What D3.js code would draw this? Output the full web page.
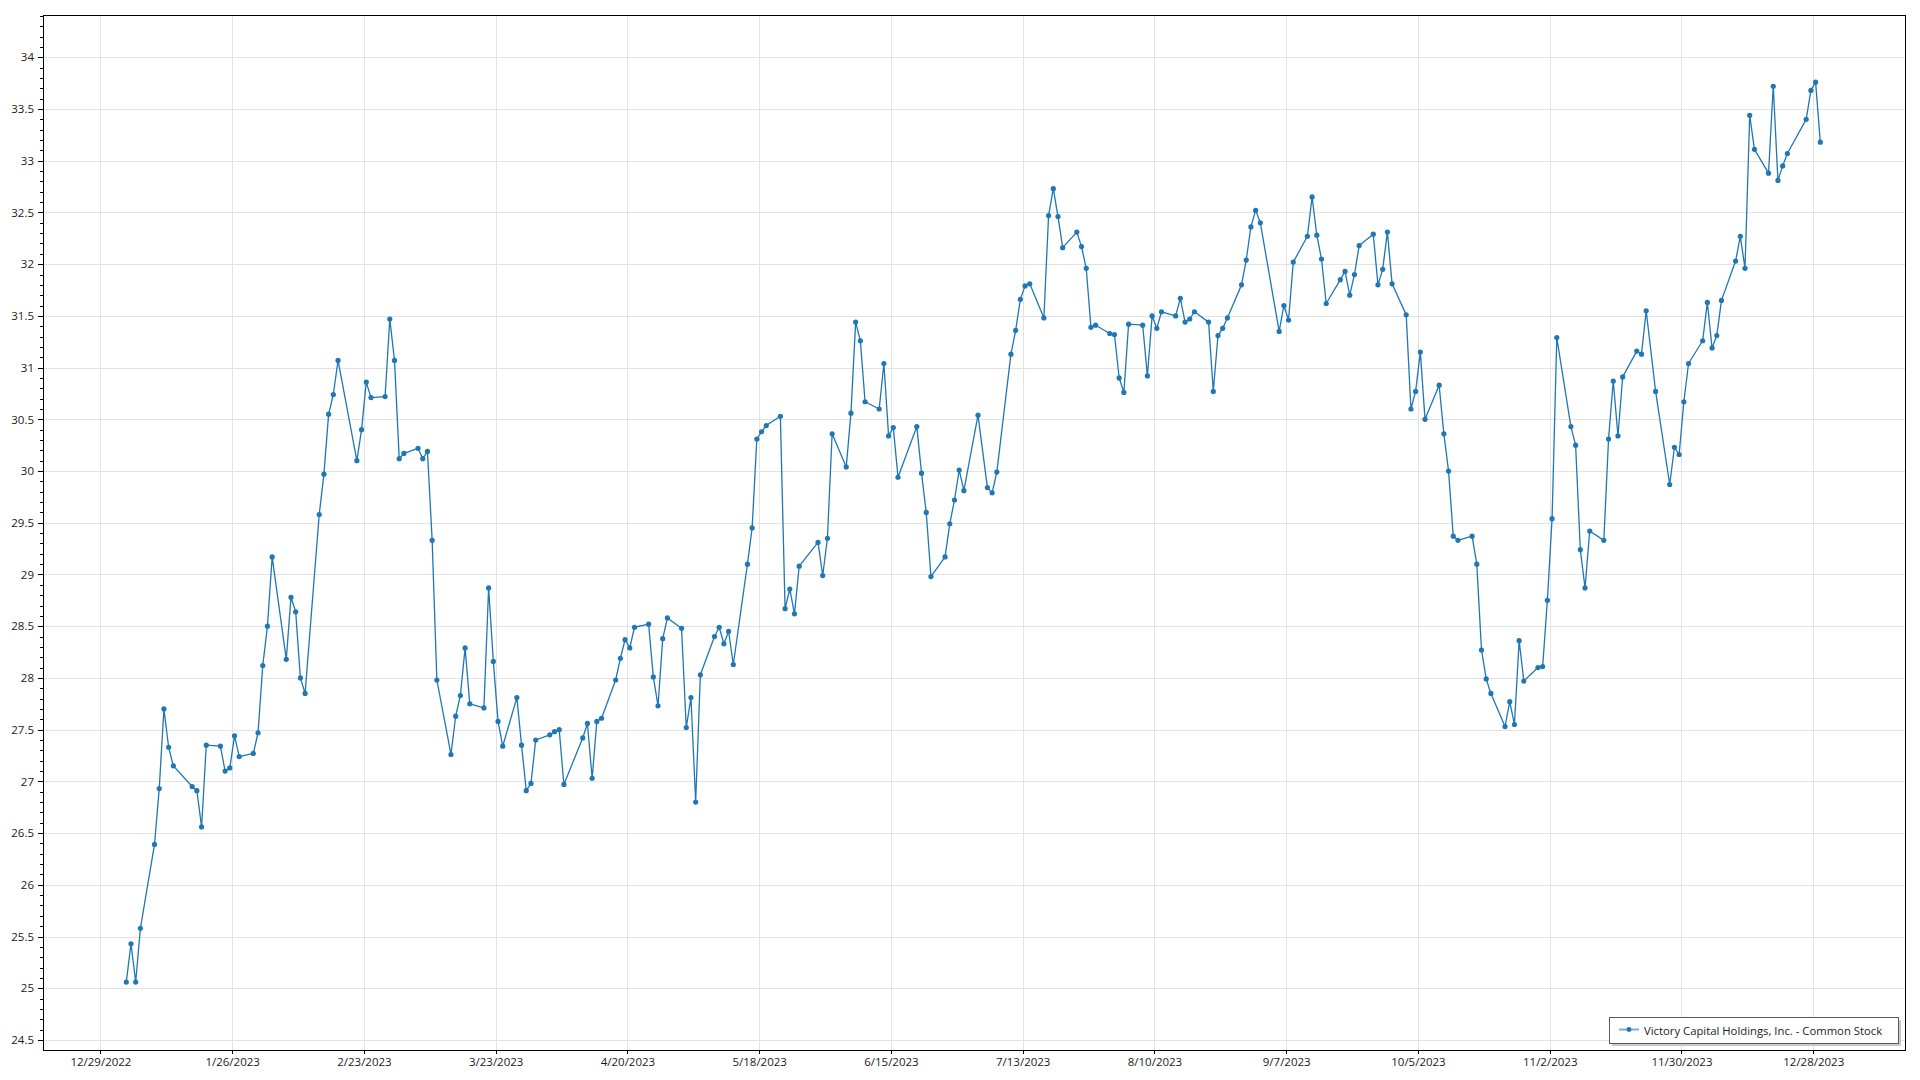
<!DOCTYPE html>
<html><head><meta charset="utf-8">
<script src="https://cdn.jsdelivr.net/npm/d3@7"></script>
<style>html,body{margin:0;padding:0;background:#fff;} svg{display:block}</style>
</head><body><svg id="chart" width="1920" height="1080"></svg>
<script>
const seriesName = "Victory Capital Holdings, Inc. - Common Stock";
const tradeDates = [
"1/3","1/4","1/5","1/6","1/9","1/10","1/11","1/12","1/13","1/17","1/18","1/19","1/20","1/23","1/24","1/25","1/26","1/27","1/30","1/31",
"2/1","2/2","2/3","2/6","2/7","2/8","2/9","2/10","2/13","2/14","2/15","2/16","2/17","2/21","2/22","2/23","2/24","2/27","2/28",
"3/1","3/2","3/3","3/6","3/7","3/8","3/9","3/10","3/13","3/14","3/15","3/16","3/17","3/20","3/21","3/22","3/23","3/24","3/27","3/28","3/29","3/30","3/31",
"4/3","4/4","4/5","4/6","4/10","4/11","4/12","4/13","4/14","4/17","4/18","4/19","4/20","4/21","4/24","4/25","4/26","4/27","4/28",
"5/1","5/2","5/3","5/4","5/5","5/8","5/9","5/10","5/11","5/12","5/15","5/16","5/17","5/18","5/19","5/22","5/23","5/24","5/25","5/26","5/30","5/31",
"6/1","6/2","6/5","6/6","6/7","6/8","6/9","6/12","6/13","6/14","6/15","6/16","6/20","6/21","6/22","6/23","6/26","6/27","6/28","6/29","6/30",
"7/3","7/5","7/6","7/7","7/10","7/11","7/12","7/13","7/14","7/17","7/18","7/19","7/20","7/21","7/24","7/25","7/26","7/27","7/28","7/31",
"8/1","8/2","8/3","8/4","8/7","8/8","8/9","8/10","8/11","8/14","8/15","8/16","8/17","8/18","8/21","8/22","8/23","8/24","8/25","8/28","8/29","8/30","8/31",
"9/1","9/5","9/6","9/7","9/8","9/11","9/12","9/13","9/14","9/15","9/18","9/19","9/20","9/21","9/22","9/25","9/26","9/27","9/28","9/29",
"10/2","10/3","10/4","10/5","10/6","10/9","10/10","10/11","10/12","10/13","10/16","10/17","10/18","10/19","10/20","10/23","10/24","10/25","10/26","10/27","10/30","10/31",
"11/1","11/2","11/3","11/6","11/7","11/8","11/9","11/10","11/13","11/14","11/15","11/16","11/17","11/20","11/21","11/22","11/24","11/27","11/28","11/29","11/30",
"12/1","12/4","12/5","12/6","12/7","12/8","12/11","12/12","12/13","12/14","12/15","12/18","12/19","12/20","12/21","12/22","12/26","12/27","12/28","12/29"
];
const closePrices = [
25.06,25.43,25.06,25.58,26.39,26.93,27.70,27.33,27.15,26.95,26.91,26.56,27.35,27.34,27.10,27.13,27.44,27.24,27.27,27.47,
28.12,28.50,29.17,28.18,28.78,28.64,28.00,27.85,29.58,29.97,30.55,30.74,31.07,30.10,30.40,30.86,30.71,30.72,31.47,
31.07,30.12,30.17,30.22,30.12,30.19,29.33,27.98,27.26,27.63,27.83,28.29,27.75,27.71,28.87,28.16,27.58,27.34,27.81,27.35,26.91,26.98,27.40,
27.45,27.48,27.50,26.97,27.42,27.56,27.03,27.58,27.61,27.98,28.19,28.37,28.29,28.49,28.52,28.01,27.73,28.38,28.58,
28.48,27.52,27.81,26.80,28.03,28.40,28.49,28.33,28.45,28.13,29.10,29.45,30.31,30.38,30.44,30.53,28.67,28.86,28.62,29.08,29.31,28.99,
29.35,30.36,30.04,30.56,31.44,31.26,30.67,30.60,31.04,30.34,30.42,29.94,30.43,29.98,29.60,28.98,29.17,29.49,29.72,30.01,29.81,
30.54,29.84,29.79,29.99,31.13,31.36,31.66,31.79,31.81,31.48,32.47,32.73,32.46,32.16,32.31,32.17,31.96,31.39,31.41,31.33,
31.32,30.90,30.76,31.42,31.41,30.92,31.50,31.38,31.54,31.50,31.67,31.44,31.47,31.54,31.44,30.77,31.31,31.38,31.48,31.80,32.04,32.36,32.52,
32.40,31.35,31.60,31.46,32.02,32.27,32.65,32.28,32.05,31.62,31.85,31.93,31.70,31.90,32.18,32.29,31.80,31.95,32.31,31.81,
31.51,30.60,30.77,31.15,30.50,30.83,30.36,30.00,29.37,29.33,29.37,29.10,28.27,27.99,27.85,27.53,27.77,27.55,28.36,27.97,28.10,28.11,
28.75,29.54,31.29,30.43,30.25,29.24,28.87,29.42,29.33,30.31,30.87,30.34,30.91,31.16,31.13,31.55,30.77,29.87,30.23,30.16,30.67,
31.04,31.26,31.63,31.19,31.31,31.65,32.03,32.27,31.96,33.44,33.11,32.88,33.72,32.81,32.95,33.07,33.40,33.68,33.76,33.18
];
const xTickLabels = ["12/29/2022","1/26/2023","2/23/2023","3/23/2023","4/20/2023","5/18/2023","6/15/2023","7/13/2023","8/10/2023","9/7/2023","10/5/2023","11/2/2023","11/30/2023","12/28/2023"];
const yTickValues = [24.5,25,25.5,26,26.5,27,27.5,28,28.5,29,29.5,30,30.5,31,31.5,32,32.5,33,33.5,34];

const DAY = 864e5;
const parseDay = s => { const [m,d] = s.split("/").map(Number); return new Date(Date.UTC(2023, m-1, d, 12)); };
const parseTick = s => { const [m,d,yy] = s.split("/").map(Number); return new Date(Date.UTC(yy, m-1, d)); };
const data = tradeDates.map((s,i) => ({date: parseDay(s), value: closePrices[i]}));
const tickDates = xTickLabels.map(parseTick);

const L = 43, R = 1905, T = 15, B = 1050;
const color = "#1f77b4";
const font = "'Open Sans', 'Noto Sans', sans-serif";

const x = d3.scaleUtc()
  .domain([new Date(+data[0].date - 17.7*DAY), new Date(+data[data.length-1].date + 18*DAY)])
  .range([L, R]);
const y = d3.scaleLinear().domain([24.403, 34.409]).range([B, T]);

const svg = d3.select("#chart");

// grid
const grid = svg.append("g").attr("stroke", "#e3e3e3").attr("stroke-width", 1).attr("shape-rendering", "crispEdges");
grid.selectAll("line.v").data(tickDates).join("line").attr("class","v")
  .attr("x1", d => Math.round(x(d)) + 0.5).attr("x2", d => Math.round(x(d)) + 0.5)
  .attr("y1", T).attr("y2", B);
grid.selectAll("line.h").data(yTickValues).join("line").attr("class","h")
  .attr("y1", d => Math.round(y(d)) + 0.5).attr("y2", d => Math.round(y(d)) + 0.5)
  .attr("x1", L).attr("x2", R);

// minor y ticks
const minorVals = d3.range(245, 345).map(v => v/10).filter(v => Math.abs(v*2 - Math.round(v*2)) > 1e-6);
const yMinor = svg.append("g").attr("transform", `translate(${L},0)`)
  .call(d3.axisLeft(y).tickValues(minorVals).tickSize(3).tickFormat(""));
yMinor.select(".domain").remove();
yMinor.selectAll("line").attr("stroke", "#000").attr("shape-rendering","crispEdges");

// major y axis
const yAxis = svg.append("g").attr("transform", `translate(${L},0)`)
  .call(d3.axisLeft(y).tickValues(yTickValues).tickSize(5).tickSizeOuter(0).tickPadding(4).tickFormat(d => String(d)));
yAxis.selectAll("text").attr("font-family", font).attr("font-size", 11.5).attr("fill", "#1a1a1a");
yAxis.selectAll("line").attr("stroke", "#000").attr("shape-rendering","crispEdges");
yAxis.select(".domain").remove();

// x axis
const xAxis = svg.append("g").attr("transform", `translate(0,${B})`)
  .call(d3.axisBottom(x).tickValues(tickDates).tickSize(4).tickSizeOuter(0).tickPadding(4).tickFormat((d,i) => xTickLabels[i]));
xAxis.selectAll("text").attr("font-family", font).attr("font-size", 11.5).attr("fill", "#1a1a1a");
xAxis.selectAll("line").attr("stroke", "#000").attr("shape-rendering","crispEdges");
xAxis.select(".domain").remove();

// frame
svg.append("rect").attr("x", L + 0.5).attr("y", T + 0.5).attr("width", R - L).attr("height", B - T)
  .attr("fill", "none").attr("stroke", "#000").attr("stroke-width", 1).attr("shape-rendering","crispEdges");

// series
const line = d3.line().x(d => x(d.date)).y(d => y(d.value));
svg.append("path").datum(data).attr("d", line)
  .attr("fill", "none").attr("stroke", color).attr("stroke-width", 1.3).attr("stroke-linejoin", "round");
svg.append("g").selectAll("circle").data(data).join("circle")
  .attr("cx", d => x(d.date)).attr("cy", d => y(d.value)).attr("r", 2.6).attr("fill", color);

// legend
const lg = svg.append("g");
const lx = 1609, ly = 1017, lw = 289, lh = 26;
lg.append("rect").attr("x", lx + 3).attr("y", ly + 3).attr("width", lw).attr("height", lh).attr("fill", "#c9c9c9");
lg.append("rect").attr("x", lx + 0.5).attr("y", ly + 0.5).attr("width", lw).attr("height", lh)
  .attr("fill", "#fff").attr("stroke", "#5a5a5a").attr("stroke-width", 1).attr("shape-rendering","crispEdges");
lg.append("line").attr("x1", lx + 10).attr("x2", lx + 30).attr("y1", ly + 12.5).attr("y2", ly + 12.5)
  .attr("stroke", color).attr("stroke-opacity", 0.6).attr("stroke-width", 2);
lg.append("circle").attr("cx", lx + 20).attr("cy", ly + 12.5).attr("r", 2.4).attr("fill", color);
lg.append("text").attr("x", lx + 35).attr("y", ly + 13).attr("dominant-baseline", "central")
  .attr("font-family", font).attr("font-size", 11.3).attr("fill", "#222").text(seriesName);
</script>
</body></html>
